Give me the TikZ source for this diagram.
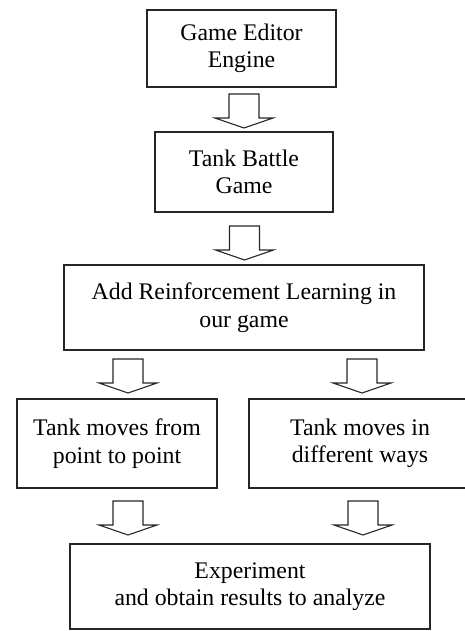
\documentclass[tikz,border=0pt]{standalone}
\usepackage{fontspec}
\setmainfont{Liberation Serif}
\begin{document}
\begin{tikzpicture}[x=1pt,y=-1pt,
  box/.style={draw=black!85, line width=1.1pt, inner sep=0pt, align=center,
    font=\fontsize{23.8}{27.5}\selectfont},
  arrowline/.style={draw=black!85, line width=1.1pt, line join=miter}]
\useasboundingbox (0,0) rectangle (464,631);
\newcommand\barrow[1]{\draw[arrowline] (#1) ++(-15,0) -- ++(0,24) -- ++(-14,0) -- ++(29,10) -- ++(29,-10) -- ++(-14,0) -- ++(0,-24) -- cycle;}
\node[box, minimum width=189pt, minimum height=77pt] (b1) at (241.5,48.5) {Game Editor\\Engine};
\node[box, minimum width=178pt, minimum height=80pt] (b2) at (244,172) {Tank Battle\\Game};
\node[box, minimum width=360pt, minimum height=85pt] (b3) at (244,307.5) {Add Reinforcement Learning in\\our game};
\node[box, minimum width=200pt, minimum height=89pt] (b4) at (117,443.5) {Tank moves from\\point to point};
\node[box, minimum width=222pt, minimum height=89pt] (b5) at (360,443.5) {Tank moves in\\different ways};
\node[box, minimum width=360pt, minimum height=85pt] (b6) at (250,586.5) {Experiment\\and obtain results to analyze};
\coordinate (a1) at (244,94);
\coordinate (a2) at (244.5,226);
\coordinate (a3) at (128,359);
\coordinate (a4) at (362,359);
\coordinate (a5) at (128,501);
\coordinate (a6) at (363,501);
\barrow{a1}
\barrow{a2}
\barrow{a3}
\barrow{a4}
\barrow{a5}
\barrow{a6}
\end{tikzpicture}
\end{document}
